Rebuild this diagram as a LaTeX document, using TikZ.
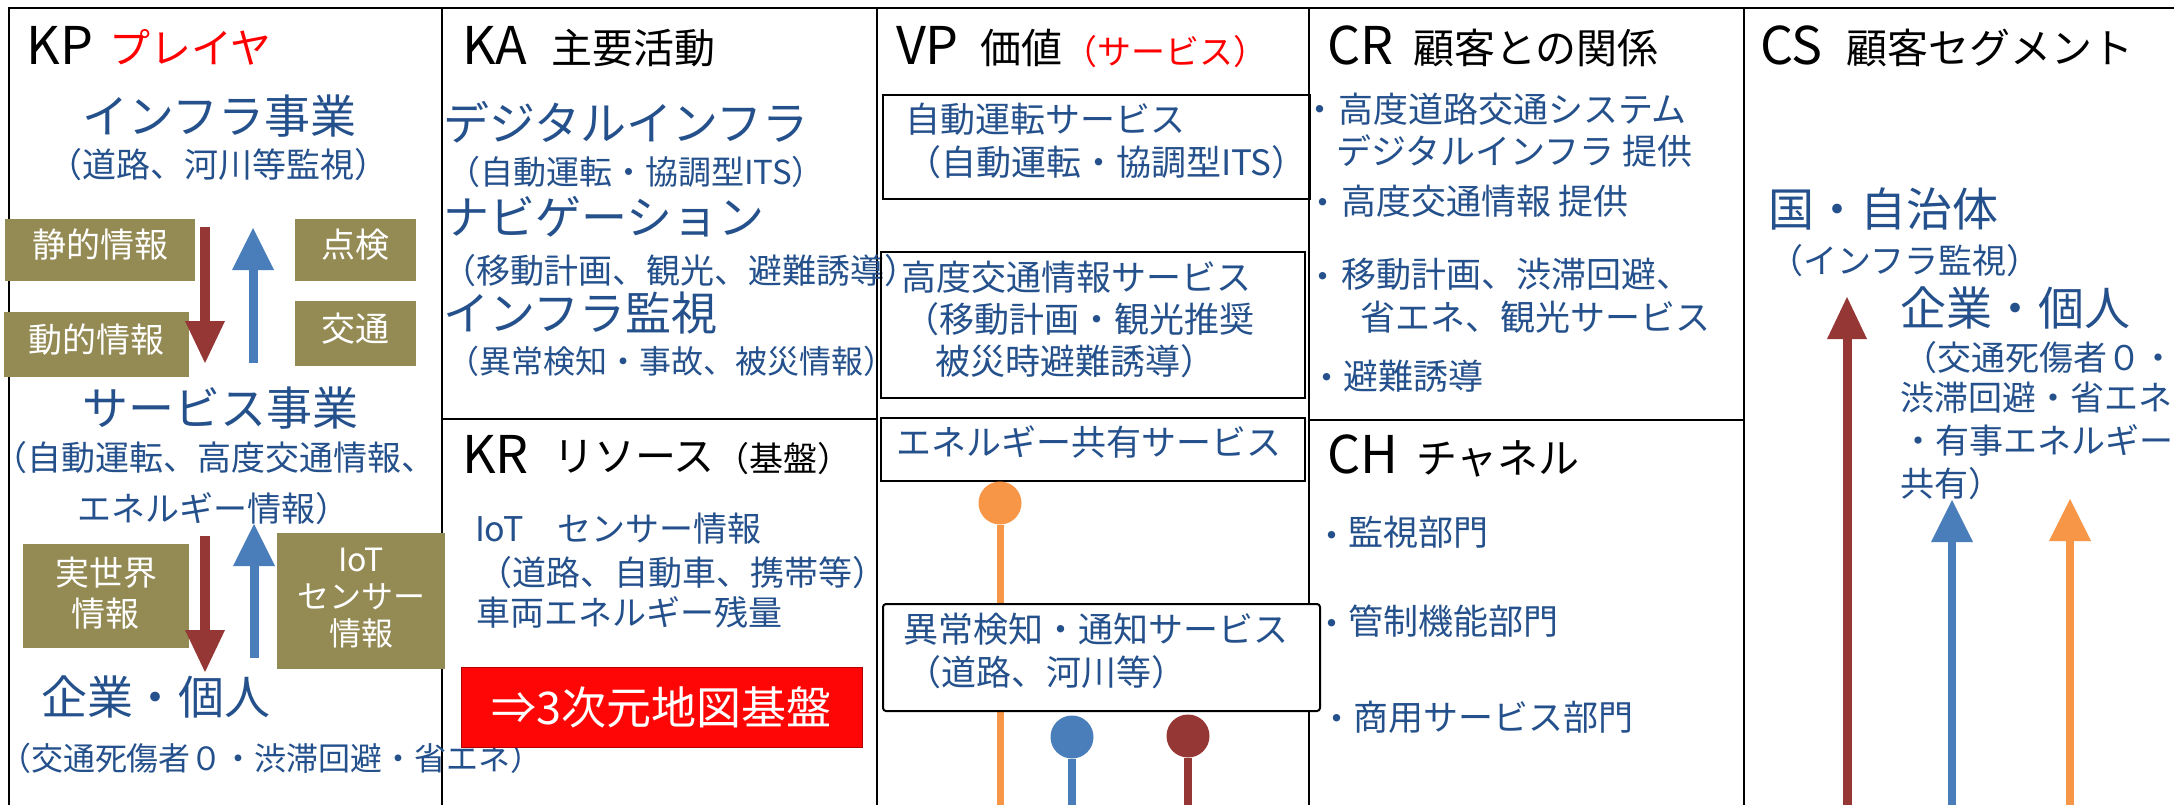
\documentclass[tikz,border=0pt]{standalone}
\usepackage{fontspec}
\setmainfont{Noto Sans CJK JP}
\usetikzlibrary{arrows.meta}
\definecolor{txtblue}{HTML}{24508C}
\definecolor{olivebx}{HTML}{948A54}
\definecolor{dred}{HTML}{953735}
\definecolor{ablue}{HTML}{4A7EBB}
\definecolor{orng}{HTML}{F79646}
\definecolor{btnred}{HTML}{FF0606}
\begin{document}
\begin{tikzpicture}[x=1pt,y=-1pt,
  every node/.style={inner sep=0pt,outer sep=0pt},
  gridline/.style={line width=2.5pt,black,line cap=rect},
  ttl/.style={font=\fontsize{52}{60}\selectfont,anchor=base west},
  tj/.style={font=\fontsize{41}{48}\selectfont,anchor=base west},
  tp/.style={font=\fontsize{34}{40}\selectfont,anchor=base west},
  big/.style={font=\fontsize{46}{54}\selectfont,text=txtblue,anchor=base west},
  sub/.style={font=\fontsize{#1}{#1}\selectfont,text=txtblue,anchor=base west},
  sub/.default=34,
  vptxt/.style={font=\fontsize{35}{35}\selectfont,text=txtblue,anchor=base west},
  bul/.style={font=\fontsize{35}{35}\selectfont,text=txtblue,anchor=base},
  obox/.style={fill=olivebx,anchor=north west},
  otxt/.style={text=white,align=center,font=\fontsize{34}{41}\selectfont,yshift=5pt},
  vbox/.style={draw,line width=2pt,anchor=north west},
  btn/.style={anchor=north west,minimum width=401pt,minimum height=80pt,fill=btnred,draw=red!70!black,line width=1pt,text=white,font=\fontsize{45}{45}\selectfont},
  redarr/.style={draw=dred,line width=#1,-{Triangle[width=40pt,length=42pt,line width=0pt]}},
  bluarr/.style={draw=ablue,line width=#1,-{Triangle[width=42pt,length=42pt,line width=0pt]}},
  orarr/.style={draw=orng,line width=#1,-{Triangle[width=42pt,length=42pt,line width=0pt]}},
  pin/.style={circle,fill=#1,minimum size=43pt}
]
\useasboundingbox (0,0) rectangle (2174,805);
\clip (0,0) rectangle (2174,805);
\fill[white] (0,0) rectangle (2174,805);

% ---------- canvas grid ----------
\draw[gridline] (9,8) -- (2190,8);
\foreach \xx in {9,442,877,1309,1744} \draw[gridline] (\xx,8) -- (\xx,815);
\draw[gridline] (442,419) -- (877,419);
\draw[gridline] (1309,420) -- (1744,420);

% ---------- KP ----------
\node[ttl] (kp) at (27,65) {KP};
\node[tj,text=red] (kpj) at (109,64) {プレイヤ};
\node[big] (infra) at (82,134) {インフラ事業};
\node[sub] (infrasub) at (48,178) {（道路、河川等監視）};
\node[obox,minimum width=190pt,minimum height=62pt] (o1) at (5,219) {};
\node[otxt] (o1t) at (o1.center) {静的情報};
\node[obox,minimum width=121pt,minimum height=62pt] (o2) at (295,219) {};
\node[otxt] (o2t) at (o2.center) {点検};
\node[obox,minimum width=185pt,minimum height=65pt] (o3) at (4,312) {};
\node[otxt] (o3t) at (o3.center) {動的情報};
\node[obox,minimum width=121pt,minimum height=65pt] (o4) at (295,301) {};
\node[otxt] (o4t) at (o4.center) {交通};
\coordinate (a1s) at (205,227); \coordinate (a1e) at (205,363);
\draw[redarr=10pt] (a1s) -- (a1e);
\coordinate (a2s) at (253,363); \coordinate (a2e) at (253,228);
\draw[bluarr=9pt] (a2s) -- (a2e);
\node[big] (serv) at (82,425) {サービス事業};
\node[sub] (servsub1) at (-6,470) {（自動運転、高度交通情報、};
\node[sub] (servsub2) at (77,521) {エネルギー情報）};
\node[obox,minimum width=166pt,minimum height=104pt] (o5) at (23,544) {};
\node[otxt,yshift=-2pt] (o5t) at (o5.center) {実世界\\情報};
\node[obox,minimum width=168pt,minimum height=136pt] (o6) at (277,533) {};
\node[otxt,yshift=-2pt,font=\fontsize{32}{37}\selectfont] (o6t) at (o6.center) {IoT\\センサー\\情報};
\coordinate (a3s) at (205,536); \coordinate (a3e) at (205,672);
\draw[redarr=10pt] (a3s) -- (a3e);
\coordinate (a4s) at (254,658); \coordinate (a4e) at (254,524);
\draw[bluarr=9pt] (a4s) -- (a4e);
\node[big] (kigyo) at (41,714) {企業・個人};
\node[sub=32] (kigyosub) at (-1,770) {（交通死傷者０・渋滞回避・省エネ）};

% ---------- KA ----------
\node[ttl] (ka) at (462,65) {KA};
\node[tj] (kaj) at (551,64) {主要活動};
\node[big] (ka1) at (443,141) {デジタルインフラ};
\node[sub=33] (ka1s) at (447,185) {（自動運転・協調型ITS）};
\node[big] (ka2) at (443,234) {ナビゲーション};
\node[sub=34] (ka2s) at (442,283) {（移動計画、観光、避難誘導）};
\node[big] (ka3) at (443,330) {インフラ監視};
\node[sub=32] (ka3s) at (447,373) {（異常検知・事故、被災情報）};

% ---------- KR ----------
\node[ttl] (kr) at (462,473) {KR};
\node[tj] (krj) at (553,471) {リソース};
\node[tp] (krp) at (715,471) {（基盤）};
\node[sub] (kr1) at (475,541) {IoT　センサー情報};
\node[sub] (kr2) at (478,585) {（道路、自動車、携帯等）};
\node[sub] (kr3) at (476,625) {車両エネルギー残量};
\node[btn] (button) at (461,667) {⇒3次元地図基盤};

% ---------- VP ----------
\node[ttl] (vp) at (896,65) {VP};
\node[tj] (vpj) at (980,64) {価値};
\node[tp,text=red] (vpp) at (1063,65) {（サービス）};
\node[vbox,minimum width=427pt,minimum height=104pt] (v1) at (883,95) {};
\node[vptxt] (v1a) at (905,132.5) {自動運転サービス};
\node[vptxt] (v1b) at (906,175.5) {（自動運転・協調型ITS）};
\node[vbox,minimum width=424pt,minimum height=146pt] (v2) at (881,252) {};
\node[vptxt] (v2a) at (901,290.5) {高度交通情報サービス};
\node[vptxt] (v2b) at (904,332.5) {（移動計画・観光推奨};
\node[vptxt] (v2c) at (935,374.5) {被災時避難誘導）};
\node[vbox,minimum width=424pt,minimum height=63pt] (v3) at (881,418) {};
\node[vptxt] (v3a) at (896.5,455.5) {エネルギー共有サービス};
\node[pin=orng] (p1) at (1000,503) {};
\coordinate (p1b) at (1000,815);
\draw[orng,line width=7pt] (p1) -- (p1b);
\node[vbox,fill=white,rounded corners=3pt,minimum width=437pt,minimum height=107pt] (v4) at (883,604) {};
\node[vptxt] (v4a) at (903,642.5) {異常検知・通知サービス};
\node[vptxt] (v4b) at (906,685.5) {（道路、河川等）};
\node[pin=ablue] (p2) at (1072,737) {};
\coordinate (p2b) at (1072,815);
\draw[ablue,line width=8pt] (p2) -- (p2b);
\node[pin=dred] (p3) at (1188,736) {};
\coordinate (p3b) at (1188,815);
\draw[dred,line width=8pt] (p3) -- (p3b);

% ---------- CR ----------
\node[ttl] (cr) at (1327,65) {CR};
\node[tj] (crj) at (1413,64) {顧客との関係};
\node[bul] (crb1) at (1320,123) {・};
\node[vptxt] (cr1) at (1338,122.5) {高度道路交通システム};
\node[vptxt] (cr1b) at (1336.5,164.5) {デジタルインフラ 提供};
\node[bul] (crb2) at (1323,216) {・};
\node[vptxt] (cr2) at (1341,214.5) {高度交通情報 提供};
\node[bul] (crb3) at (1323,289) {・};
\node[vptxt] (cr3) at (1341,287.5) {移動計画、渋滞回避、};
\node[vptxt] (cr3b) at (1360,330.5) {省エネ、観光サービス};
\node[bul] (crb4) at (1327,390) {・};
\node[vptxt] (cr4) at (1343,389.5) {避難誘導};

% ---------- CH ----------
\node[ttl] (ch) at (1327,473) {CH};
\node[tj] (chj) at (1416,473) {チャネル};
\node[bul] (chb1) at (1332,548) {・};
\node[vptxt] (ch1) at (1348,545.5) {監視部門};
\node[bul] (chb2) at (1332,636) {・};
\node[vptxt] (ch2) at (1348,634.5) {管制機能部門};
\node[bul] (chb3) at (1337,731) {・};
\node[vptxt] (ch3) at (1353,730.5) {商用サービス部門};

% ---------- CS ----------
\node[ttl] (cs) at (1760,65) {CS};
\node[tj] (csj) at (1846,64) {顧客セグメント};
\node[big] (cs1) at (1768,227) {国・自治体};
\node[sub] (cs1s) at (1769,273) {（インフラ監視）};
\node[big] (cs2) at (1900,325) {企業・個人};
\node[sub] (cs2a) at (1903,370) {（交通死傷者０・};
\node[sub] (cs2b) at (1900,410) {渋滞回避・省エネ};
\node[sub] (cs2c) at (1901,453) {・有事エネルギー};
\node[sub] (cs2d) at (1900,496) {共有）};
\coordinate (c1s) at (1847,815); \coordinate (c1e) at (1847,297);
\draw[redarr=9pt] (c1s) -- (c1e);
\coordinate (c2s) at (1952,815); \coordinate (c2e) at (1952,500);
\draw[bluarr=8pt] (c2s) -- (c2e);
\coordinate (c3s) at (2070,815); \coordinate (c3e) at (2070,499);
\draw[orarr=8pt] (c3s) -- (c3e);
\end{tikzpicture}
\end{document}
